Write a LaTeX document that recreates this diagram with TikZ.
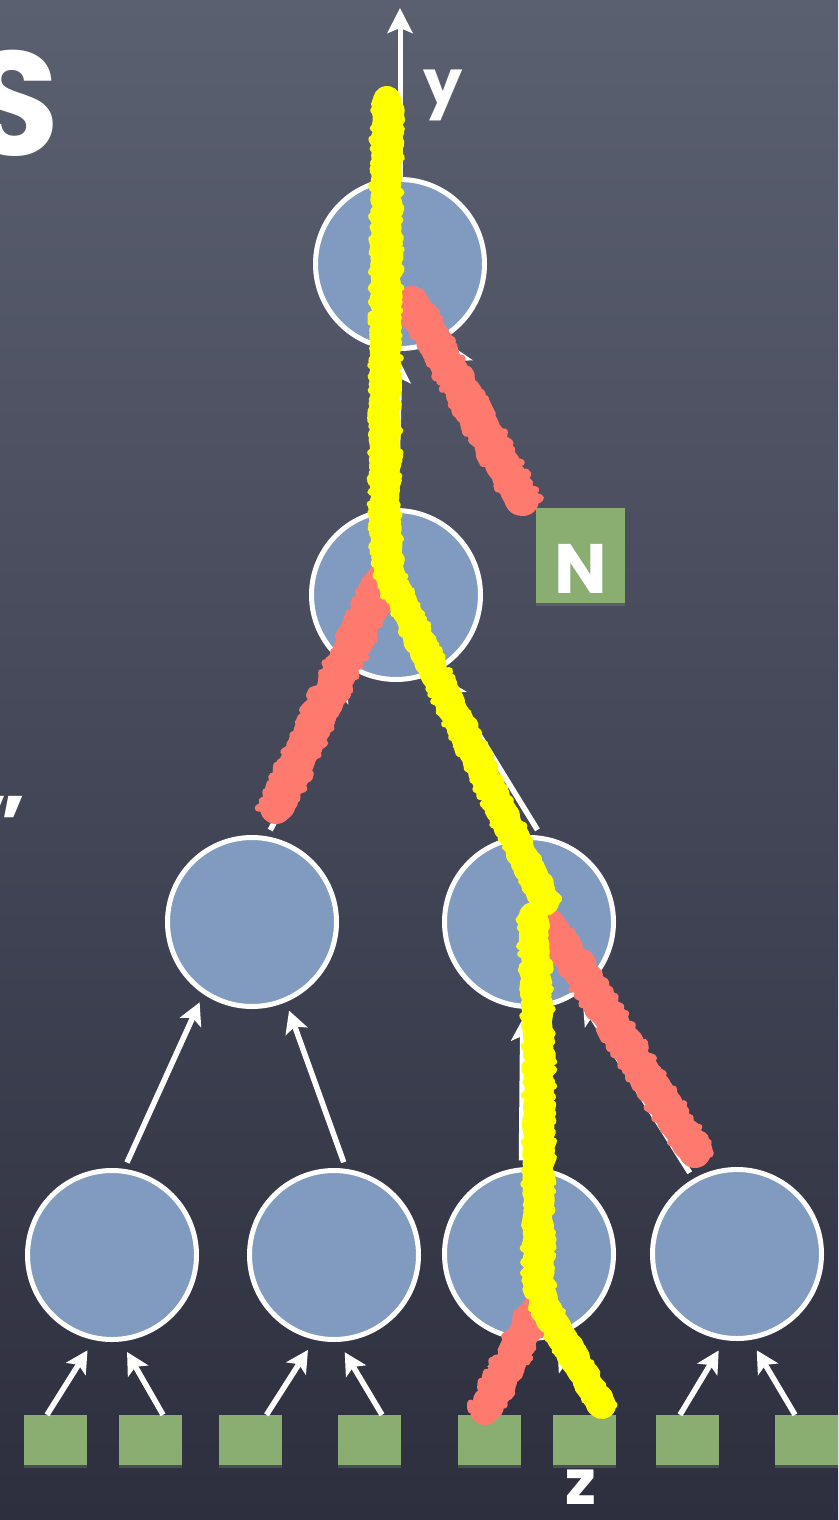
\documentclass[tikz,border=0pt]{standalone}
\usepackage{fontspec}
\setmainfont{Poppins}
\usetikzlibrary{arrows.meta,calc,decorations.pathmorphing,shadows}
\definecolor{bgtop}{HTML}{5B6071}
\definecolor{bgbot}{HTML}{2D2F3E}
\definecolor{nodefill}{HTML}{809BBF}
\definecolor{leafgreen}{HTML}{8AAD72}
\definecolor{hlyellow}{HTML}{FFFF00}
\definecolor{hlred}{HTML}{FF7A6E}
\newcommand\roughstroke[4]{%
  \draw[hlbase,#1,line width=#2] #4;
  \draw[hledge,#1,transform canvas={xshift=#3}] #4;
  \draw[hledge,#1,transform canvas={xshift=-#3}] #4;
}
\begin{document}
\begin{tikzpicture}[x=1pt,y=-1pt,
  tnode/.style={circle, draw=white, line width=5pt, fill=nodefill, minimum size=169pt, inner sep=0pt},
  leaf/.style={rectangle, fill=leafgreen, minimum width=63pt, minimum height=50pt, inner sep=0pt,
    drop shadow={opacity=0.35, shadow xshift=0pt, shadow yshift=-3pt}},
  nbox/.style={rectangle, fill=leafgreen, minimum width=89pt, minimum height=95pt, inner sep=0pt,
    drop shadow={opacity=0.35, shadow xshift=0pt, shadow yshift=-3pt}},
  arr/.style={draw=white, line width=5.5pt, -{Stealth[length=22pt,width=23pt,inset=5pt]}},
  bigarr/.style={draw=white, line width=5pt, -{Stealth[length=25pt,width=25pt,inset=5pt]}},
  hlbase/.style={line cap=round, line join=round, decorate,
    decoration={random steps, segment length=4pt, amplitude=2pt}},
  hledge/.style={line width=7pt, line cap=round, line join=round, decorate,
    decoration={random steps, segment length=2.5pt, amplitude=4pt}},
  lab/.style={text=white, inner sep=0pt, font=\fontsize{62}{70}\selectfont\bfseries}
]
\pgfmathsetseed{11}
% background
\fill[top color=bgtop, bottom color=bgbot] (0,0) rectangle (838,1520);
\useasboundingbox (0,0) rectangle (838,1520);

% title fragments
\node[text=white, inner sep=0pt, anchor=base east, font=\fontsize{148}{150}\selectfont\bfseries] (title) at (60,155) {S};
\node[text=white, inner sep=0pt, anchor=base east, font=\fontsize{80}{80}\selectfont\bfseries] (quote) at (26,852) {”};

% tree nodes
\node[tnode] (c1)  at (400,264) {};
\node[tnode] (c2)  at (396,595) {};
\node[tnode] (c3l) at (252,922) {};
\node[tnode] (c3r) at (529,922) {};
\node[tnode] (c41) at (112,1255) {};
\node[tnode] (c42) at (334,1255) {};
\node[tnode] (c43) at (529,1254) {};
\node[tnode] (c44) at (737,1254) {};

% leaves
\node[leaf] (b1) at (55,1440) {};
\node[leaf] (b2) at (150.5,1440) {};
\node[leaf] (b3) at (250.5,1440) {};
\node[leaf] (b4) at (369.5,1440) {};
\node[leaf] (b5) at (489,1440) {};
\node[leaf] (b6) at (584.5,1440) {};
\node[leaf] (b7) at (687.5,1440) {};
\node[leaf] (b8) at (806.5,1440) {};

% N box
\node[nbox] (N) at (580.5,555.5) {};
\node[lab, anchor=base, font=\fontsize{70}{74}\selectfont\bfseries] (Nlab) at (581,593) {N};

% axis labels
\coordinate (ytop) at (400,8);
\node[lab, anchor=base] (ylab) at (443,104) {y};
\node[lab, anchor=base] (zlab) at (581,1504) {z};

% arrows leaves -> level 4
\draw[arr, shorten >=12pt] ($(b1.north)+(-8,0)$)   -- (c41.258);
\draw[arr, shorten >=12pt] ($(b2.north)+(12.5,0)$) -- (c41.276);
\draw[arr, shorten >=12pt] ($(b3.north)+(16,0)$)   -- (c42.257);
\draw[arr, shorten >=12pt] ($(b4.north)+(12.5,0)$) -- (c42.273);
\draw[arr, shorten >=12pt] ($(b5.north)+(-8,0)$)   -- (c43.258);
\draw[arr, shorten >=12pt] ($(b6.north)+(12.5,0)$) -- (c43.285);
\draw[arr, shorten >=12pt] ($(b7.north)+(-7.5,0)$) -- (c44.262);
\draw[arr, shorten >=12pt] ($(b8.north)+(-11.5,0)$) -- (c44.279);

% level 4 -> level 3
\draw[arr, shorten <=7pt, shorten >=9pt] (c41.82)  -- (c3l.236);
\draw[arr, shorten <=7pt, shorten >=9pt] (c42.82)  -- (c3l.293);
\draw[arr, shorten <=7pt, shorten >=10pt] (c43.95) -- (c3r.266);
\draw[arr, shorten <=7pt, shorten >=10pt] (c44.120) -- (c3r.304);

% level 3 -> level 2
\draw[arr, shorten <=7pt, shorten >=10pt] (c3l.80) -- (c2.240);
\draw[arr, shorten <=7pt, shorten >=10pt] (c3r.82) -- (c2.300);

% level 2 -> root
\draw[arr, shorten <=4pt, shorten >=10pt] (c2.90) -- (c1.270);

% N -> root
\draw[arr, shorten <=6pt, shorten >=10pt] (N.north west) -- (c1.303);

% y axis
\draw[bigarr] (c1.north) -- (ytop);

% highlighter strokes
\roughstroke{hlred}{32pt}{15pt}{(412,302) -- (523,500)}
\roughstroke{hlred}{32pt}{15pt}{(384,577) -- (276,808)}
\roughstroke{hlred}{32pt}{15pt}{(550,925) -- (695,1152)}
\roughstroke{hlred}{30pt}{14pt}{(536,1310) -- (485,1410)}
\roughstroke{hlyellow}{28pt}{11pt}{(387,100) -- (385,470) .. controls (385,530) and (386,560) .. (392,582) -- (545,902)}
\roughstroke{hlyellow}{28pt}{11pt}{(533,916) -- (539,1050) -- (538,1272) .. controls (539,1296) and (546,1310) .. (558,1330) -- (602,1405)}
\end{tikzpicture}
\end{document}
